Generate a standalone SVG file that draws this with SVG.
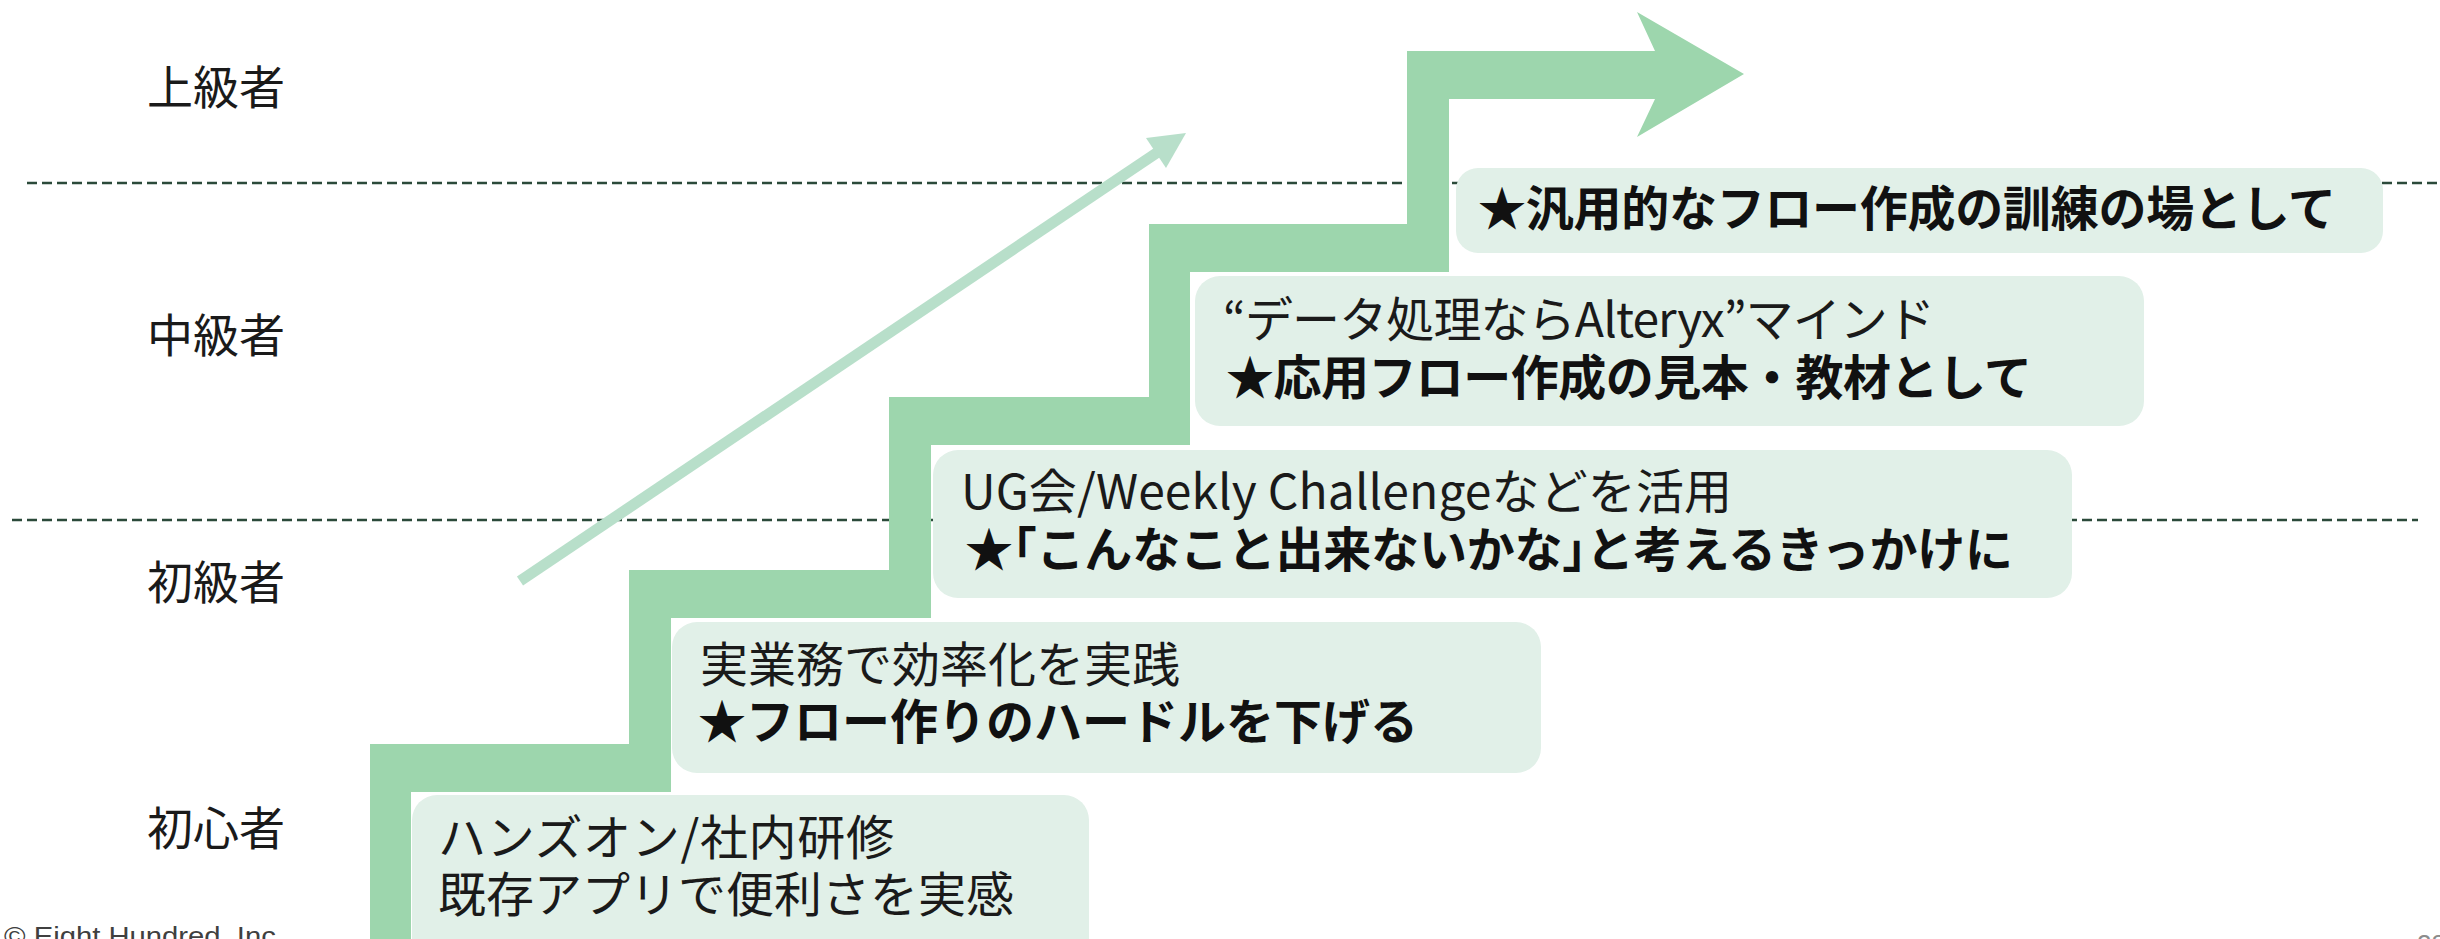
<svg xmlns="http://www.w3.org/2000/svg" width="2440" height="939" viewBox="0 0 2440 939">
<style>
.lbl{font-family:"Noto Sans CJK JP","Noto Sans CJK SC",sans-serif;font-size:46px;fill:#1a1a1a}
.t{font-family:"Noto Sans CJK JP","Noto Sans CJK SC",sans-serif;font-size:48px;fill:#1a1a1a}
.b{font-weight:bold;fill:#111}
.half{font-feature-settings:"halt" 1}
.box{fill:#E1F0E8}
.dash{stroke:#2B4A3A;stroke-width:2.5;stroke-dasharray:10 5;fill:none}
.foot{font-family:"Liberation Sans",Arial,sans-serif;font-size:26px}
</style>
<rect width="2440" height="939" fill="#ffffff"/>
<g id="levels">
<line class="dash" x1="27" y1="183" x2="2440" y2="183"/>
<line class="dash" x1="12" y1="520" x2="2418" y2="520"/>
</g>
<g id="labels">
<text class="lbl" x="147" y="104">上級者</text>
<text class="lbl" x="147" y="352">中級者</text>
<text class="lbl" x="147" y="599">初級者</text>
<text class="lbl" x="147" y="845">初心者</text>
</g>
<g id="connectors">
<polygon id="stairs" fill="#9DD6AD" points="370,945 370,744 629,744 629,570 889,570 889,397 1149,397 1149,224 1407,224 1407,51 1655,51 1637,12 1744,74 1637,137 1655,99 1449,99 1449,272 1190,272 1190,445 931,445 931,618 671,618 671,792 411,792 411,945"/>
<g id="growth-arrow" fill="#B8DFCA" stroke="#B8DFCA">
<line x1="520" y1="581" x2="1158" y2="152" stroke-width="11"/>
<polygon stroke="none" points="1186,133 1166,168 1146,138"/>
</g>
</g>
<g id="step1">
<rect class="box" x="412" y="795" width="677" height="170" rx="25"/>
<text class="t" x="438" y="855" textLength="456" lengthAdjust="spacing">ハンズオン/社内研修</text>
<text class="t" x="438" y="912">既存アプリで便利さを実感</text>
</g>
<g id="step2">
<rect class="box" x="672" y="622" width="869" height="151" rx="25"/>
<text class="t" x="700" y="682">実業務で効率化を実践</text>
<text class="t b" x="698" y="739">★フロー作りのハードルを下げる</text>
</g>
<g id="step3">
<rect class="box" x="933" y="450" width="1139" height="148" rx="25"/>
<text class="t" x="961" y="509" textLength="771" lengthAdjust="spacing">UG会/Weekly Challengeなどを活用</text>
<text class="t b" x="965" y="567" textLength="1048" lengthAdjust="spacing">★<tspan class="half">「</tspan>こんなこと出来ないかな<tspan class="half">」</tspan>と考えるきっかけに</text>
</g>
<g id="step4">
<rect class="box" x="1195" y="276" width="949" height="150" rx="25"/>
<text class="t" x="1223" y="337" textLength="712" lengthAdjust="spacing">“データ処理ならAlteryx”マインド</text>
<text class="t b" x="1226" y="395" textLength="806" lengthAdjust="spacing">★応用フロー作成の見本・教材として</text>
</g>
<g id="step5">
<rect class="box" x="1456" y="168" width="927" height="85" rx="22"/>
<text class="t b" x="1478" y="226" textLength="858" lengthAdjust="spacing">★汎用的なフロー作成の訓練の場として</text>
</g>
<g id="footer">
<text class="foot" x="4" y="945" fill="#404040" textLength="280" lengthAdjust="spacingAndGlyphs">© Eight Hundred, Inc.</text>
<text class="foot" x="2417" y="953" fill="#8c8c8c">28</text>
</g>
</svg>
